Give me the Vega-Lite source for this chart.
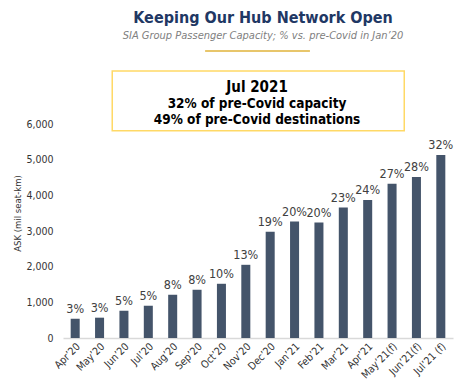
{
  "$schema": "https://vega.github.io/schema/vega-lite/v6.json",
  "autosize": {"type": "none"},
  "padding": {"left": 63, "top": 51, "right": 21, "bottom": 45},
  "width": 390,
  "height": 287,
  "background": "white",
  "config": {
    "font": "DejaVu Sans Condensed",
    "view": {"stroke": null}
  },
  "title": {
    "text": "Keeping Our Hub Network Open",
    "subtitle": "SIA Group Passenger Capacity; % vs. pre-Covid in Jan’20",
    "anchor": "middle",
    "dx": 5,
    "offset": 9,
    "font": "DejaVu Sans Condensed",
    "fontSize": 16,
    "fontWeight": "bold",
    "color": "#1F3864",
    "subtitleFont": "DejaVu Sans Condensed",
    "subtitleFontSize": 11,
    "subtitleFontStyle": "italic",
    "subtitleColor": "#808080",
    "subtitlePadding": 4
  },
  "layer": [
    {
      "data": {
        "values": [
          {"month": "Apr’20", "ask": 540, "pct": "3%"},
          {"month": "May’20", "ask": 570, "pct": "3%"},
          {"month": "Jun’20", "ask": 765, "pct": "5%"},
          {"month": "Jul’20", "ask": 905, "pct": "5%"},
          {"month": "Aug’20", "ask": 1213, "pct": "8%"},
          {"month": "Sep’20", "ask": 1353, "pct": "8%"},
          {"month": "Oct’20", "ask": 1521, "pct": "10%"},
          {"month": "Nov’20", "ask": 2053, "pct": "13%"},
          {"month": "Dec’20", "ask": 2977, "pct": "19%"},
          {"month": "Jan’21", "ask": 3266, "pct": "20%"},
          {"month": "Feb’21", "ask": 3238, "pct": "20%"},
          {"month": "Mar’21", "ask": 3658, "pct": "23%"},
          {"month": "Apr’21", "ask": 3874, "pct": "24%"},
          {"month": "May’21(f)", "ask": 4330, "pct": "27%"},
          {"month": "Jun’21(f)", "ask": 4518, "pct": "28%"},
          {"month": "Jul’21 (f)", "ask": 5134, "pct": "32%"}
        ]
      },
      "encoding": {
        "x": {
          "field": "month",
          "type": "nominal",
          "sort": null,
          "scale": {"paddingInner": 0.63, "paddingOuter": 0.315},
          "axis": {
            "title": null,
            "labelAngle": -45,
            "labelFontSize": 10.5,
            "labelColor": "#333333",
            "labelPadding": 3,
            "ticks": false,
            "domainColor": "#D9D9D9",
            "domainWidth": 1.5
          }
        },
        "y": {
          "field": "ask",
          "type": "quantitative",
          "scale": {"domain": [0, 8050], "nice": false},
          "axis": {
            "title": "ASK (mil seat-km)",
            "values": [0, 1000, 2000, 3000, 4000, 5000, 6000],
            "format": ",d",
            "grid": false,
            "domain": false,
            "ticks": false,
            "labelPadding": 10,
            "labelFontSize": 10.5,
            "labelColor": "#333333",
            "titleFontSize": 9.5,
            "titleFontWeight": "normal",
            "titleColor": "#333333",
            "titleX": -41,
            "titleY": 162,
            "titleAngle": -90,
            "titleAlign": "center",
            "titleBaseline": "bottom"
          }
        }
      },
      "layer": [
        {"mark": {"type": "bar", "color": "#44546A"}},
        {
          "mark": {"type": "text", "baseline": "alphabetic", "dy": -6, "fontSize": 12.5, "color": "#404040"},
          "encoding": {"text": {"field": "pct", "type": "nominal"}}
        }
      ]
    },
    {
      "data": {"values": [{}]},
      "layer": [
        {
          "mark": {"type": "rect", "fill": "white", "stroke": "#FFD966", "strokeWidth": 1.5},
          "encoding": {
            "x": {"datum": 2.02, "type": "quantitative", "scale": {"domain": [0, 16], "nice": false, "zero": false}, "axis": null},
            "x2": {"datum": 14.0},
            "y": {"datum": 5815, "type": "quantitative", "axis": null},
            "y2": {"datum": 7489}
          }
        },
        {
          "mark": {"type": "rule", "stroke": "#E0B33A", "strokeWidth": 1.5},
          "encoding": {
            "x": {"datum": 5.83, "type": "quantitative", "scale": {"domain": [0, 16], "nice": false, "zero": false}, "axis": null},
            "x2": {"datum": 10.13},
            "y": {"datum": 8050, "type": "quantitative", "axis": null}
          }
        },
        {
          "mark": {"type": "text", "baseline": "alphabetic", "align": "center", "fontSize": 15, "fontWeight": "bold", "color": "#000000"},
          "encoding": {
            "x": {"datum": 7.96, "type": "quantitative", "scale": {"domain": [0, 16], "nice": false, "zero": false}, "axis": null},
            "y": {"datum": 6909, "type": "quantitative", "axis": null},
            "text": {"value": "Jul 2021"}
          }
        },
        {
          "mark": {"type": "text", "baseline": "alphabetic", "align": "center", "fontSize": 13.5, "fontWeight": "bold", "color": "#000000"},
          "encoding": {
            "x": {"datum": 7.96, "type": "quantitative", "scale": {"domain": [0, 16], "nice": false, "zero": false}, "axis": null},
            "y": {"datum": 6460, "type": "quantitative", "axis": null},
            "text": {"value": "32% of pre-Covid capacity"}
          }
        },
        {
          "mark": {"type": "text", "baseline": "alphabetic", "align": "center", "fontSize": 13.5, "fontWeight": "bold", "color": "#000000"},
          "encoding": {
            "x": {"datum": 7.96, "type": "quantitative", "scale": {"domain": [0, 16], "nice": false, "zero": false}, "axis": null},
            "y": {"datum": 5994, "type": "quantitative", "axis": null},
            "text": {"value": "49% of pre-Covid destinations"}
          }
        }
      ]
    }
  ],
  "resolve": {"scale": {"x": "independent"}, "axis": {"x": "independent", "y": "independent"}}
}
